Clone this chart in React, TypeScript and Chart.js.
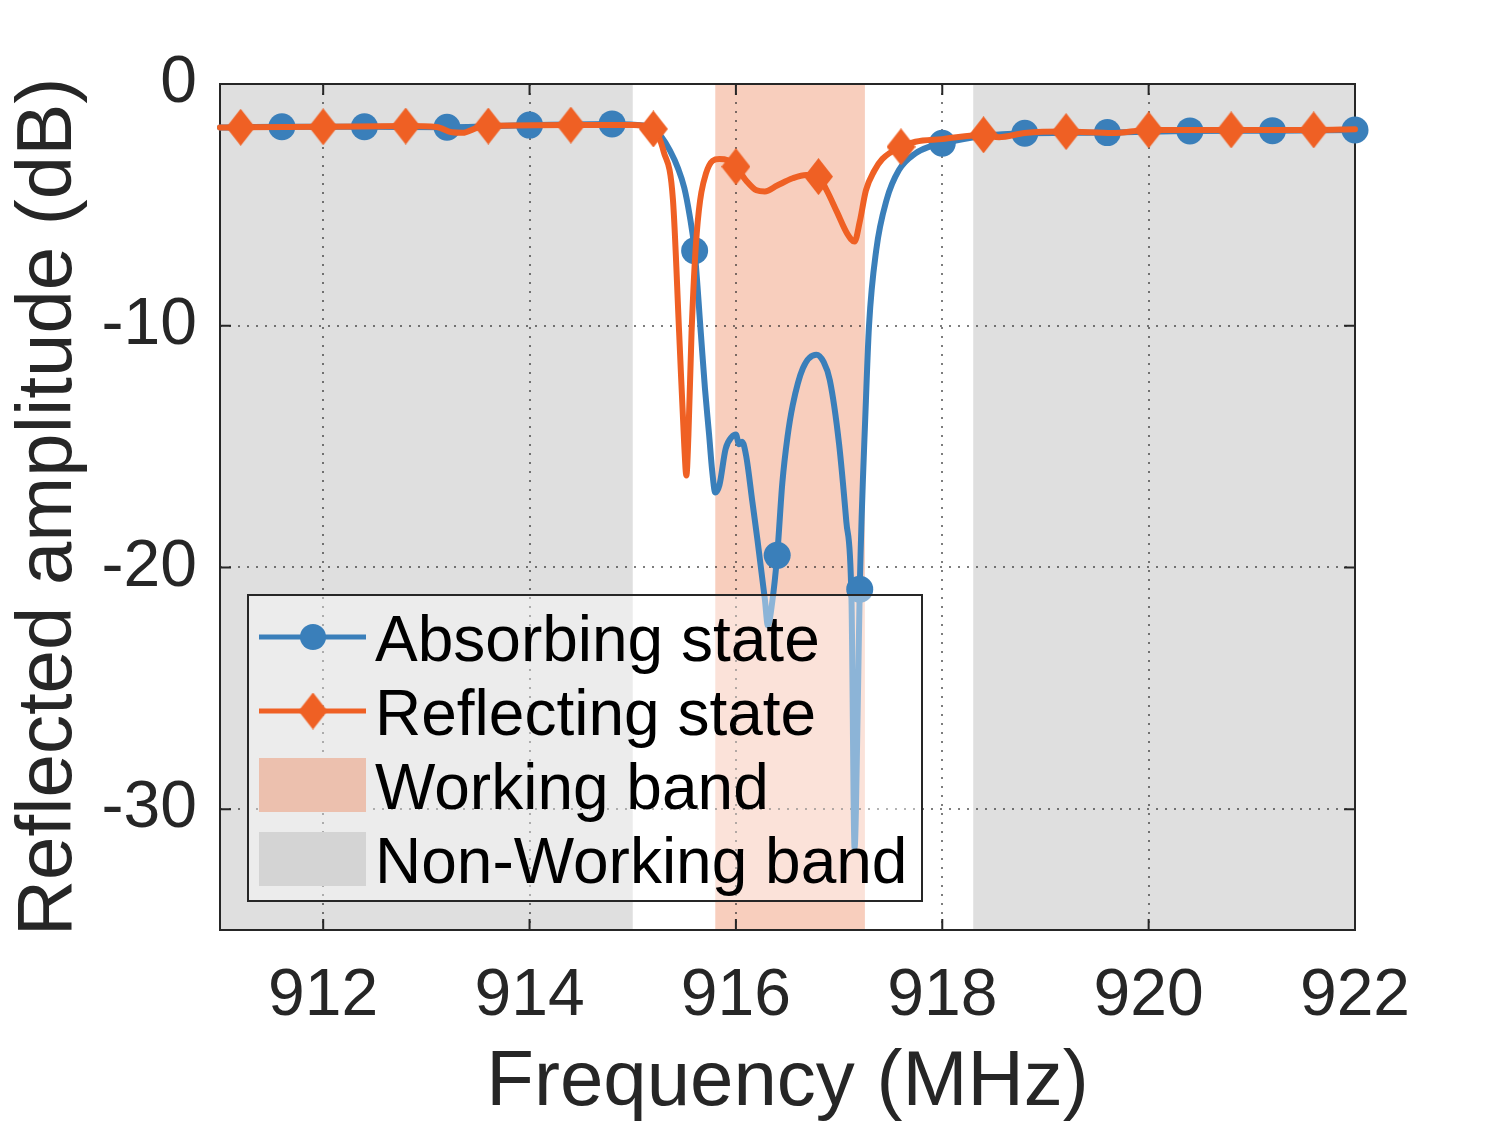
import React, { useEffect, useRef } from 'react';
import { Chart, registerables } from 'chart.js';

Chart.register(...registerables);

// Absorbing state trace (MHz, dB)
const absorbFreq = [
  911.0, 911.6, 912.4, 913.2, 914.0, 914.8, 915.1, 915.2, 915.28, 915.36,
  915.44, 915.5, 915.55, 915.6, 915.66, 915.7, 915.74, 915.77, 915.8, 915.84,
  915.9, 915.96, 916.0, 916.03, 916.06, 916.1, 916.16, 916.21, 916.28, 916.31,
  916.35, 916.4, 916.45, 916.5, 916.55, 916.65, 916.78, 916.85, 916.91, 917.0,
  917.07, 917.12, 917.15, 917.18, 917.2, 917.26, 917.29, 917.36, 917.46, 917.58,
  917.74, 917.87, 918.0, 918.4, 918.8, 919.6, 920.4, 921.2, 922.0,
];
const absorbDb = [
  -1.8, -1.77, -1.77, -1.79, -1.7, -1.65, -1.72, -1.85, -2.2, -2.75,
  -3.5, -4.3, -5.4, -6.9, -10.3, -12.6, -14.5, -16.0, -16.9, -16.6,
  -15.1, -14.6, -14.5, -14.9, -14.8, -15.4, -17.3, -18.9, -21.3, -22.4,
  -21.5, -19.5, -16.5, -14.6, -13.3, -11.75, -11.2, -11.5, -12.25, -14.9,
  -18.1, -21.3, -31.6, -26.0, -20.9, -13.1, -10.0, -6.87, -4.8, -3.56,
  -2.87, -2.6, -2.45, -2.15, -2.04, -2.01, -1.94, -1.93, -1.9,
];
const absorbMarkerFreq = [
  911.6, 912.4, 913.2, 914.0, 914.8, 915.6, 916.4, 917.2, 918.0, 918.8,
  919.6, 920.4, 921.2, 922.0,
];

// Reflecting state trace (MHz, dB)
const reflectFreq = [
  911.0, 911.2, 912.0, 912.8, 913.1, 913.25, 913.35, 913.5, 913.6, 914.4,
  915.0, 915.2, 915.3, 915.39, 915.45, 915.5, 915.52, 915.54, 915.57, 915.62,
  915.71, 915.84, 915.92, 916.0, 916.1, 916.2, 916.28, 916.4, 916.55, 916.68,
  916.8, 916.88, 916.98, 917.08, 917.15, 917.2, 917.26, 917.34, 917.42, 917.6,
  917.74, 918.0, 918.4, 918.55, 918.8, 919.2, 919.65, 920.0, 920.8, 921.6,
  922.0,
];
const reflectDb = [
  -1.8, -1.79, -1.77, -1.74, -1.78, -2.0, -2.02, -1.8, -1.74, -1.7,
  -1.7, -1.86, -2.8, -4.8, -10.3, -15.0, -16.2, -14.5, -10.3, -6.2,
  -3.7, -3.1, -3.15, -3.42, -4.0, -4.4, -4.45, -4.2, -3.9, -3.76,
  -3.83, -4.4, -5.3, -6.2, -6.52, -5.7, -4.4, -3.6, -3.1, -2.6,
  -2.39, -2.28, -2.1, -2.2, -2.03, -1.97, -2.03, -1.9, -1.9, -1.9,
  -1.87,
];
const reflectMarkerFreq = [
  911.2, 912.0, 912.8, 913.6, 914.4, 915.2, 916.0, 916.8, 917.6, 918.4,
  919.2, 920.0, 920.8, 921.6,
];

const xTicks = [912, 914, 916, 918, 920, 922];
const yTicks = [0, -10, -20, -30];
const nonWorkingBands = [[911, 915], [918.3, 922]];
const workingBand = [915.8, 917.25];
const seriesLabels = ['Absorbing state', 'Reflecting state'];
const bandLabels = ['Working band', 'Non-Working band'];

const BLUE = '#3a7fba';
const ORANGE = '#ef6024';
const BAND = '#f8cebd';
const GRAY = '#dfdfdf';
const INK = '#262626';
const FONT = '"Liberation Sans", Arial, Helvetica, sans-serif';

const isMarker = (list: number[], x: number) => list.some((m) => Math.abs(m - x) < 1e-6);

function makeDiamond(w: number, h: number) {
  const c = document.createElement('canvas');
  c.width = w;
  c.height = h;
  const g = c.getContext('2d')!;
  g.fillStyle = ORANGE;
  g.beginPath();
  g.moveTo(w / 2, 0);
  g.lineTo(w, h / 2);
  g.lineTo(w / 2, h);
  g.lineTo(0, h / 2);
  g.closePath();
  g.fill();
  return c;
}

export default function App() {
  const chartRef = useRef<HTMLCanvasElement>(null);
  const chartInstance = useRef<Chart | null>(null);

  useEffect(() => {
    if (!chartRef.current) return;
    if (chartInstance.current) chartInstance.current.destroy();
    const diamond = makeDiamond(29, 37);

    const decor = {
      id: 'decor',
      beforeDraw(chart: any) {
        const { ctx, chartArea: a, scales } = chart;
        const x = scales.x;
        ctx.save();
        ctx.fillStyle = GRAY;
        nonWorkingBands.forEach(([f0, f1]) => {
          const p0 = x.getPixelForValue(f0);
          const p1 = x.getPixelForValue(f1);
          ctx.fillRect(p0, a.top, p1 - p0, a.bottom - a.top);
        });
        ctx.fillStyle = BAND;
        const w0 = x.getPixelForValue(workingBand[0]);
        const w1 = x.getPixelForValue(workingBand[1]);
        ctx.fillRect(w0, a.top, w1 - w0, a.bottom - a.top);
        ctx.restore();
      },
      beforeDatasetsDraw(chart: any) {
        const { ctx, chartArea: a, scales } = chart;
        ctx.save();
        ctx.strokeStyle = INK;
        ctx.lineWidth = 2;
        ctx.beginPath();
        xTicks.forEach((v) => {
          const p = scales.x.getPixelForValue(v);
          ctx.moveTo(p, a.top);
          ctx.lineTo(p, a.top + 11);
          ctx.moveTo(p, a.bottom);
          ctx.lineTo(p, a.bottom - 11);
        });
        yTicks.forEach((v) => {
          const p = scales.y.getPixelForValue(v);
          ctx.moveTo(a.left, p);
          ctx.lineTo(a.left + 11, p);
          ctx.moveTo(a.right, p);
          ctx.lineTo(a.right - 11, p);
        });
        ctx.stroke();
        ctx.strokeRect(a.left, a.top, a.right - a.left, a.bottom - a.top);
        ctx.restore();
      },
      afterDraw(chart: any) {
        const { ctx } = chart;
        ctx.save();
        ctx.fillStyle = 'rgba(255,255,255,0.42)';
        ctx.fillRect(248, 595, 674, 306);
        ctx.strokeStyle = INK;
        ctx.lineWidth = 2;
        ctx.strokeRect(248, 595, 674, 306);
        const labels = [...seriesLabels, ...bandLabels];
        labels.forEach((label, i) => {
          const cy = 637 + i * 74;
          if (i < 2) {
            ctx.strokeStyle = i === 0 ? BLUE : ORANGE;
            ctx.lineWidth = 5;
            ctx.beginPath();
            ctx.moveTo(259, cy);
            ctx.lineTo(366, cy);
            ctx.stroke();
            if (i === 0) {
              ctx.fillStyle = BLUE;
              ctx.beginPath();
              ctx.arc(313, cy, 13, 0, Math.PI * 2);
              ctx.fill();
            } else {
              ctx.drawImage(diamond, 313 - diamond.width / 2, cy - diamond.height / 2);
            }
          } else {
            ctx.fillStyle = i === 2 ? '#ecc0ae' : '#d4d4d4';
            ctx.fillRect(259, cy - 27, 107, 54);
          }
          ctx.fillStyle = '#000';
          ctx.font = `64px ${FONT}`;
          ctx.textBaseline = 'alphabetic';
          ctx.textAlign = 'left';
          ctx.fillText(label, 375, cy + 24);
        });
        ctx.restore();
      },
    };

    chartInstance.current = new Chart(chartRef.current, {
      type: 'scatter',
      data: {
        datasets: [
          {
            label: seriesLabels[0],
            data: absorbFreq.map((f, i) => ({ x: f, y: absorbDb[i] })),
            showLine: true,
            borderColor: BLUE,
            borderWidth: 6,
            borderJoinStyle: 'round',
            borderCapStyle: 'round',
            cubicInterpolationMode: 'monotone',
            pointStyle: 'circle',
            pointRadius: (c: any) => (c.raw && isMarker(absorbMarkerFreq, c.raw.x) ? 13.5 : 0),
            pointHoverRadius: (c: any) => (c.raw && isMarker(absorbMarkerFreq, c.raw.x) ? 13.5 : 0),
            pointBackgroundColor: BLUE,
            pointBorderWidth: 0,
            clip: false,
            order: 1,
          },
          {
            label: seriesLabels[1],
            data: reflectFreq.map((f, i) => ({ x: f, y: reflectDb[i] })),
            showLine: true,
            borderColor: ORANGE,
            borderWidth: 6,
            borderJoinStyle: 'round',
            borderCapStyle: 'round',
            cubicInterpolationMode: 'monotone',
            pointStyle: (c: any) => (c.raw && isMarker(reflectMarkerFreq, c.raw.x) ? diamond : 'circle'),
            pointRadius: (c: any) => (c.raw && isMarker(reflectMarkerFreq, c.raw.x) ? 14 : 0),
            pointHoverRadius: (c: any) => (c.raw && isMarker(reflectMarkerFreq, c.raw.x) ? 14 : 0),
            pointBackgroundColor: ORANGE,
            pointBorderWidth: 0,
            clip: false,
            order: 0,
          },
        ] as any,
      },
      options: {
        animation: false,
        responsive: false,
        events: [],
        layout: { padding: { top: 84, right: 144, left: 0, bottom: 0 } },
        plugins: { legend: { display: false }, tooltip: { enabled: false } },
        scales: {
          x: {
            type: 'linear',
            min: 911,
            max: 922,
            afterBuildTicks: (s: any) => {
              s.ticks = xTicks.map((v) => ({ value: v }));
            },
            afterFit: (s: any) => {
              s.height = 194;
            },
            grid: { color: 'rgba(38,38,38,0.6)', lineWidth: 2, drawTicks: false },
            border: { display: false, dash: [2, 7] },
            ticks: {
              font: { family: FONT, size: 66 },
              color: INK,
              padding: 27,
              maxRotation: 0,
              autoSkip: false,
              callback: (v: any) => String(v),
            },
            title: {
              display: true,
              text: 'Frequency (MHz)',
              font: { family: FONT, size: 78, lineHeight: 1.05 },
              color: INK,
              padding: 0,
            },
          },
          y: {
            type: 'linear',
            min: -35,
            max: 0,
            afterBuildTicks: (s: any) => {
              s.ticks = yTicks.map((v) => ({ value: v }));
            },
            afterFit: (s: any) => {
              s.width = 220;
            },
            grid: { color: 'rgba(38,38,38,0.6)', lineWidth: 2, drawTicks: false },
            border: { display: false, dash: [2, 7] },
            ticks: {
              font: { family: FONT, size: 66 },
              color: INK,
              padding: 23,
              autoSkip: false,
              callback: (v: any) => String(v),
            },
            title: {
              display: true,
              text: 'Reflected amplitude (dB)',
              font: { family: FONT, size: 78, lineHeight: 1.15 },
              color: INK,
              padding: { top: 5, bottom: 0 },
            },
          },
        },
      } as any,
      plugins: [decor],
    });

    return () => {
      if (chartInstance.current) {
        chartInstance.current.destroy();
        chartInstance.current = null;
      }
    };
  }, []);

  return (
    <div style={{ position: 'absolute', left: 0, top: 0, width: 1499, height: 1124, background: '#fff' }}>
      <canvas ref={chartRef} width={1499} height={1124} style={{ display: 'block' }} />
    </div>
  );
}
